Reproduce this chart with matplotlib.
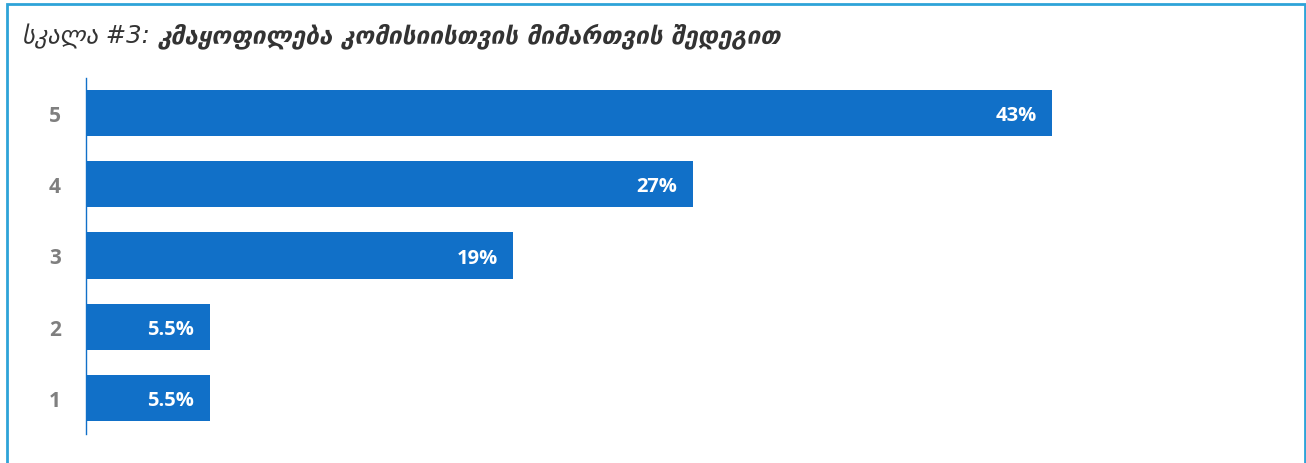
import matplotlib
matplotlib.use('Agg')
import matplotlib.pyplot as plt
from matplotlib.patches import Rectangle

categories = ['1', '2', '3', '4', '5']
values = [5.5, 5.5, 19, 27, 43]
labels = ['5.5%', '5.5%', '19%', '27%', '43%']
title_prefix = 'სკალა #3: '
title_main = 'კმაყოფილება კომისიისთვის მიმართვის შედეგით'

W, H = 1306, 464
fig = plt.figure(figsize=(W / 100, H / 100), dpi=100)

# frame around the whole chart (no bottom edge visible)
fig.patches.append(Rectangle((7 / W, -0.1), (1305 - 7) / W, (H - 5) / H + 0.1,
                             transform=fig.transFigure, fill=False,
                             edgecolor='#2EA3D8', linewidth=2))

# axes placed so bars land where they are in the picture
left, right = 86 / W, (86 + 50 * 22.47) / W
top, bottom = 1 - 78.5 / H, 1 - 434.5 / H
ax = fig.add_axes([left, bottom, right - left, top - bottom])

pos = range(len(categories))
bars = ax.barh(pos, values, height=0.65, color='#1170C8')
ax.set_xlim(0, 50)
ax.set_ylim(-0.5, len(categories) - 0.5)
ax.set_yticks(list(pos))
ax.set_yticklabels(categories, fontsize=15, fontweight='bold', color='#7F7F7F',
                   family='Open Sans')
ax.tick_params(axis='y', length=0, pad=18)
ax.set_xticks([])
for s in ['top', 'right', 'bottom']:
    ax.spines[s].set_visible(False)
ax.spines['left'].set_color('#1170C8')
ax.spines['left'].set_linewidth(1)

for b, lab in zip(bars, labels):
    ax.annotate(lab, (b.get_width(), b.get_y() + b.get_height() / 2),
                xytext=(-11, -1.5), textcoords='offset points', ha='right',
                va='center', color='white', fontsize=14.5, fontweight='bold',
                family='Open Sans')

# title: normal italic prefix followed by bold italic text
t1 = fig.text(22 / W, 1 - 36 / H, title_prefix, fontsize=17.6, style='italic',
              color='#333333', va='center', family='DejaVu Sans')
fig.canvas.draw()
bb = t1.get_window_extent()
fig.text(bb.x1 / W, 1 - 36 / H, title_main, fontsize=17.6, style='italic',
         fontweight='bold', color='#333333', va='center', family='DejaVu Sans')

fig.savefig('out.png', dpi=100)
